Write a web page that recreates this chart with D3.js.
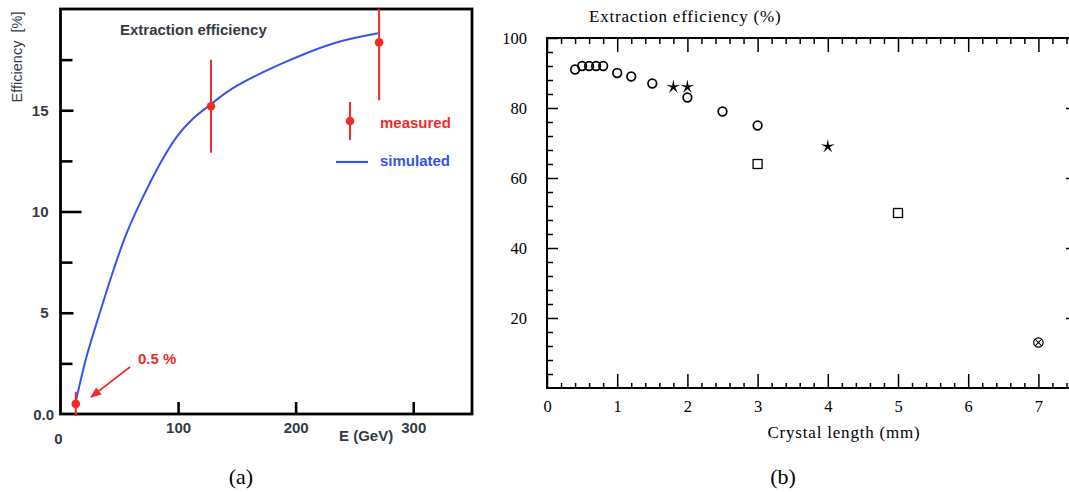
<!DOCTYPE html>
<html>
<head>
<meta charset="utf-8">
<script src="https://cdn.jsdelivr.net/npm/d3@7"></script>
<style>
  body { margin: 0; background: #fff; }
  svg { display: block; }
</style>
</head>
<body>
<svg width="1069" height="492"></svg>
<script>
// ---- panel (a) data ----
const simE = [13, 22, 34, 45, 56, 70, 85, 99, 113, 128, 147, 190, 232, 270]
const simEff = [0.6, 2.8, 5.1, 7.1, 8.9, 10.7, 12.4, 13.7, 14.6, 15.3, 16.1, 17.35, 18.3, 18.8]
const measE = [13, 128, 271]
const measEff = [0.5, 15.2, 18.35]
const measErr = [0.6, 2.3, 2.85]
const aYMajor = [5, 10, 15]
const aYMinor = [2.5, 7.5, 12.5, 17.5]
const aXTicks = [100, 200, 300]

// ---- panel (b) data ----
const circleLen = [0.4, 0.5, 0.6, 0.7, 0.8, 1.0, 1.2, 1.5, 2.0, 2.5, 3.0]
const circleEff = [91, 92, 92, 92, 92, 90, 89, 87, 83, 79, 75]
const starLen = [1.8, 2.0, 4.0]
const starEff = [86, 86, 69]
const squareLen = [3, 5]
const squareEff = [64, 50]
const crossLen = [7]
const crossEff = [13]
const bXMajor = [0, 1, 2, 3, 4, 5, 6, 7]
const bYMajor = [20, 40, 60, 80, 100]

const svg = d3.select("svg")
const red = "#f42a2a", blue = "#3552f2", grey = "#353a44"
const sans = "Liberation Sans, Arial, sans-serif"
const serif = "Liberation Serif, Times New Roman, serif"
const fs = 15

// ================= panel (a) =================
const xa = d3.scaleLinear().domain([0, 350]).range([60.5, 472])
const ya = d3.scaleLinear().domain([0, 20]).range([414, 9])
const ga = svg.append("g")

ga.append("defs").append("clipPath").attr("id", "clipA")
  .append("rect").attr("x", 60.5).attr("y", 9).attr("width", 411.5).attr("height", 420)

const boldText = sel => sel.attr("fill", grey).attr("font-family", sans)
  .attr("font-weight", "bold").attr("font-size", fs)

// y ticks
ga.append("g")
  .attr("transform", `translate(${xa(0)},0)`)
  .call(d3.axisLeft(ya).tickValues(aYMinor).tickSize(-12).tickFormat(""))
  .call(g => g.select(".domain").remove())
  .call(g => g.selectAll("line").attr("stroke", "#000").attr("stroke-width", 2.6))
ga.append("g")
  .attr("transform", `translate(${xa(0)},0)`)
  .call(d3.axisLeft(ya).tickValues(aYMajor).tickSizeInner(-13).tickSizeOuter(0).tickPadding(12))
  .call(g => g.select(".domain").remove())
  .call(g => g.selectAll("line").attr("stroke", "#000").attr("stroke-width", 2.6)
    .attr("x2", d => d === 10 ? 21 : 13))
  .call(g => g.selectAll("text").call(boldText))
ga.append("text").attr("x", 54).attr("y", ya(0) + 6).attr("text-anchor", "end")
  .call(boldText).text("0.0")

// x ticks
ga.append("g")
  .attr("transform", `translate(0,${ya(0)})`)
  .call(d3.axisBottom(xa).tickValues(aXTicks).tickSizeInner(-12).tickSizeOuter(0).tickPadding(8))
  .call(g => g.select(".domain").remove())
  .call(g => g.selectAll("line").attr("stroke", "#000").attr("stroke-width", 2.6))
  .call(g => g.selectAll("text").call(boldText))
ga.append("text").attr("x", xa(0) - 2).attr("y", 444).attr("text-anchor", "middle")
  .call(boldText).text("0")
ga.append("text").attr("x", 339).attr("y", 441).call(boldText).text("E (GeV)")

// frame
ga.append("rect").attr("x", xa(0)).attr("y", ya(20))
  .attr("width", xa(350) - xa(0)).attr("height", ya(0) - ya(20))
  .attr("fill", "none").attr("stroke", "#000").attr("stroke-width", 2.8)

// title + y label
ga.append("text").attr("x", 120).attr("y", 35).call(boldText).text("Extraction efficiency")
ga.append("text").attr("transform", "translate(22,57) rotate(-90)").attr("text-anchor", "middle")
  .attr("fill", grey).attr("font-family", sans).attr("font-size", 14.5)
  .attr("xml:space", "preserve").text("Efficiency  [%]")

// simulated curve
const simData = simE.map((e, i) => ({e, v: simEff[i]}))
ga.append("path").datum(simData)
  .attr("fill", "none").attr("stroke", blue).attr("stroke-width", 2)
  .attr("d", d3.line().x(d => xa(d.e)).y(d => ya(d.v)).curve(d3.curveCatmullRom.alpha(0.5)))

// measured points
const measData = measE.map((e, i) => ({e, v: measEff[i], err: measErr[i]}))
const gm = ga.append("g").attr("clip-path", "url(#clipA)")
gm.selectAll("line").data(measData).join("line")
  .attr("x1", d => xa(d.e)).attr("x2", d => xa(d.e))
  .attr("y1", d => ya(d.v - d.err)).attr("y2", d => ya(Math.min(d.v + d.err, 20)))
  .attr("stroke", red).attr("stroke-width", 2)
ga.selectAll("circle.meas").data(measData).join("circle").attr("class", "meas")
  .attr("cx", d => xa(d.e)).attr("cy", d => ya(d.v)).attr("r", 4.3).attr("fill", red)

// legend
ga.append("line").attr("x1", 350).attr("x2", 350).attr("y1", 102).attr("y2", 140)
  .attr("stroke", red).attr("stroke-width", 2)
ga.append("circle").attr("cx", 350).attr("cy", 121).attr("r", 4.3).attr("fill", red)
ga.append("text").attr("x", 380).attr("y", 128).call(boldText).attr("fill", red).text("measured")
ga.append("line").attr("x1", 336).attr("x2", 368).attr("y1", 162).attr("y2", 162)
  .attr("stroke", blue).attr("stroke-width", 2.2)
ga.append("text").attr("x", 380).attr("y", 166).call(boldText).attr("fill", blue).text("simulated")

// 0.5 % annotation
ga.append("defs").append("marker").attr("id", "arr").attr("viewBox", "0 0 10 10")
  .attr("refX", 9).attr("refY", 5).attr("markerWidth", 7).attr("markerHeight", 7)
  .attr("orient", "auto").append("path").attr("d", "M0,1 L10,5 L0,9 z").attr("fill", red)
ga.append("line").attr("x1", 130).attr("y1", 367).attr("x2", 91).attr("y2", 397)
  .attr("stroke", red).attr("stroke-width", 1.6).attr("marker-end", "url(#arr)")
ga.append("text").attr("x", 138).attr("y", 364).call(boldText).attr("fill", red).text("0.5 %")

svg.append("text").attr("x", 241).attr("y", 484).attr("text-anchor", "middle")
  .attr("font-family", serif).attr("font-size", 22).text("(a)")

// ================= panel (b) =================
const xb = d3.scaleLinear().domain([0, 7.55]).range([547, 547 + 7.55 * 70.2])
const yb = d3.scaleLinear().domain([0, 100]).range([388, 38])
const gb = svg.append("g")
const bXMinor = d3.range(0, 7.6, 0.2).filter(v => Math.abs(v - Math.round(v)) > 0.01)
const bYMinor = d3.range(0, 100, 4).filter(v => v % 20 !== 0)

const styleTicks = g => {
  g.select(".domain").remove()
  g.selectAll("line").attr("stroke", "#000").attr("stroke-width", 1.5)
  g.selectAll("text").attr("fill", "#000").attr("font-family", serif).attr("font-size", 16.5)
}
// bottom
gb.append("g").attr("transform", `translate(0,${yb(0)})`)
  .call(d3.axisBottom(xb).tickValues(bXMinor).tickSize(-5).tickFormat("")).call(styleTicks)
gb.append("g").attr("transform", `translate(0,${yb(0)})`)
  .call(d3.axisBottom(xb).tickValues(bXMajor).tickSizeInner(-14).tickSizeOuter(0).tickPadding(12)
    .tickFormat(d3.format("d"))).call(styleTicks)
// top
gb.append("g").attr("transform", `translate(0,${yb(100)})`)
  .call(d3.axisTop(xb).tickValues(bXMinor).tickSize(-6).tickFormat("")).call(styleTicks)
gb.append("g").attr("transform", `translate(0,${yb(100)})`)
  .call(d3.axisTop(xb).tickValues(bXMajor).tickSize(-14).tickFormat("")).call(styleTicks)
// left
gb.append("g").attr("transform", `translate(${xb(0)},0)`)
  .call(d3.axisLeft(yb).tickValues(bYMinor).tickSize(-6).tickFormat("")).call(styleTicks)
gb.append("g").attr("transform", `translate(${xb(0)},0)`)
  .call(d3.axisLeft(yb).tickValues(bYMajor).tickSizeInner(-11).tickSizeOuter(0).tickPadding(20)
    .tickFormat(d3.format("d"))).call(styleTicks)
// right
gb.append("g").attr("transform", `translate(${xb(7.55)},0)`)
  .call(d3.axisRight(yb).tickValues(bYMinor).tickSize(-6).tickFormat("")).call(styleTicks)
gb.append("g").attr("transform", `translate(${xb(7.55)},0)`)
  .call(d3.axisRight(yb).tickValues(bYMajor).tickSize(-11).tickFormat("")).call(styleTicks)

gb.append("rect").attr("x", xb(0)).attr("y", yb(100))
  .attr("width", xb(7.55) - xb(0)).attr("height", yb(0) - yb(100))
  .attr("fill", "none").attr("stroke", "#000").attr("stroke-width", 2)

gb.append("text").attr("x", 589).attr("y", 22).attr("font-family", serif).attr("font-size", 17)
  .attr("letter-spacing", 0.8).text("Extraction efficiency (%)")
gb.append("text").attr("x", 844).attr("y", 438).attr("text-anchor", "middle")
  .attr("font-family", serif).attr("font-size", 17).attr("letter-spacing", 0.8)
  .text("Crystal length (mm)")

// markers
gb.selectAll("circle.o").data(circleLen.map((l, i) => ({l, v: circleEff[i]}))).join("circle")
  .attr("class", "o").attr("cx", d => xb(d.l)).attr("cy", d => yb(d.v)).attr("r", 4.3)
  .attr("fill", "none").attr("stroke", "#000").attr("stroke-width", 1.7)

// thin-armed five point star
const starPath = d3.lineRadial().curve(d3.curveLinearClosed)(
  d3.range(10).map(i => [i * Math.PI / 5, i % 2 ? 2.0 : 7.5]))
gb.selectAll("path.star").data(starLen.map((l, i) => ({l, v: starEff[i]}))).join("path")
  .attr("class", "star").attr("transform", d => `translate(${xb(d.l)},${yb(d.v)})`)
  .attr("d", starPath).attr("fill", "#000")
gb.selectAll("rect.sq").data(squareLen.map((l, i) => ({l, v: squareEff[i]}))).join("rect")
  .attr("class", "sq").attr("x", d => xb(d.l) - 4.5).attr("y", d => yb(d.v) - 4.5)
  .attr("width", 9).attr("height", 9).attr("fill", "none").attr("stroke", "#000").attr("stroke-width", 1.3)
const cross = gb.selectAll("g.cx").data(crossLen.map((l, i) => ({l, v: crossEff[i]}))).join("g")
  .attr("class", "cx").attr("transform", d => `translate(${xb(d.l)},${yb(d.v)})`)
cross.append("circle").attr("r", 4.7).attr("fill", "none").attr("stroke", "#000").attr("stroke-width", 1.2)
cross.append("path").attr("d", "M-3.3,-3.3L3.3,3.3M-3.3,3.3L3.3,-3.3").attr("stroke", "#000").attr("stroke-width", 1.1)

svg.append("text").attr("x", 783).attr("y", 484).attr("text-anchor", "middle")
  .attr("font-family", serif).attr("font-size", 22).text("(b)")
</script>
</body>
</html>
